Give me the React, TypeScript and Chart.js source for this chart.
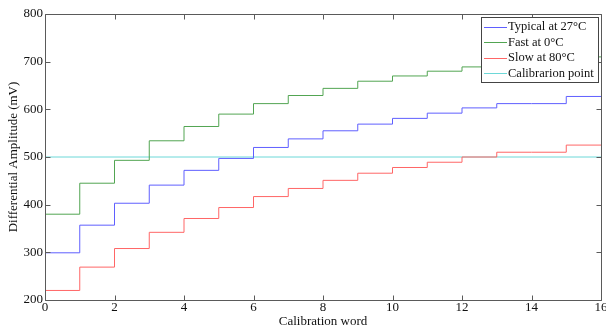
import React, { useEffect, useRef } from "react";
import { Chart, registerables } from "chart.js";

Chart.register(...registerables);

const calibrationWords = [0, 1, 2, 3, 4, 5, 6, 7, 8, 9, 10, 11, 12, 13, 14, 15, 16];
const typical27C = [299, 357, 403, 441, 472, 497, 520, 538, 555, 569, 581, 592, 603, 612, 612, 627, 627];
const fast0C = [380, 445, 493, 534, 564, 590, 612, 629, 644, 659, 670, 680, 689, 699, 699, 710, 710];
const slow80C = [220, 269, 308, 342, 371, 394, 417, 434, 451, 466, 478, 489, 500, 510, 510, 525, 525];
const calibrationX = [0, 16];
const calibrationY = [500, 500];
const xTicks = [0, 2, 4, 6, 8, 10, 12, 14, 16];
const yTicks = [200, 300, 400, 500, 600, 700, 800];

const seriesNames = ["Typical at 27°C", "Fast at 0°C", "Slow at 80°C", "Calibrarion point"];
const seriesColors = ["#5f5fff", "#52a552", "#ff6666", "#6dd8d8"];

const FONT = "'Liberation Serif', 'Times New Roman', serif";

const boxPlugin = {
  id: "matlabBox",
  afterDatasetsDraw(chart: any) {
    const { ctx, chartArea } = chart;
    const xs = chart.scales.x;
    const ys = chart.scales.y;
    const l = Math.round(chartArea.left) + 0.5;
    const r = Math.round(chartArea.right) + 0.5;
    const t = Math.round(chartArea.top) + 0.5;
    const b = Math.round(chartArea.bottom) + 0.5;
    ctx.save();
    ctx.strokeStyle = "#5a5a5a";
    ctx.lineWidth = 1;
    ctx.beginPath();
    ctx.rect(l, t, r - l, b - t);
    const tl = 5;
    xTicks.forEach((v) => {
      const px = Math.round(xs.getPixelForValue(v)) + 0.5;
      ctx.moveTo(px, b);
      ctx.lineTo(px, b - tl);
      ctx.moveTo(px, t);
      ctx.lineTo(px, t + tl);
    });
    yTicks.forEach((v) => {
      const py = Math.round(ys.getPixelForValue(v)) + 0.5;
      ctx.moveTo(l, py);
      ctx.lineTo(l + tl, py);
      ctx.moveTo(r, py);
      ctx.lineTo(r - tl, py);
    });
    ctx.stroke();
    ctx.restore();
  },
};

const legendPlugin = {
  id: "matlabLegend",
  afterDraw(chart: any) {
    const { ctx } = chart;
    const x0 = 481.5, y0 = 17.5, w = 117, h = 65;
    ctx.save();
    ctx.fillStyle = "#ffffff";
    ctx.fillRect(x0, y0, w, h);
    ctx.strokeStyle = "#444";
    ctx.lineWidth = 1;
    ctx.strokeRect(x0, y0, w, h);
    ctx.font = `12.5px ${FONT}`;
    ctx.textBaseline = "middle";
    ctx.textAlign = "left";
    chart.data.datasets.forEach((ds: any, i: number) => {
      const y = 26.5 + i * 15.5;
      ctx.strokeStyle = ds.borderColor;
      ctx.beginPath();
      ctx.moveTo(484, Math.round(y) + 0.5);
      ctx.lineTo(507, Math.round(y) + 0.5);
      ctx.stroke();
      ctx.fillStyle = "#111";
      ctx.fillText(ds.label, 508, y + 0.5);
    });
    ctx.restore();
  },
};

export default function App() {
  const ref = useRef<HTMLCanvasElement>(null);
  useEffect(() => {
    if (!ref.current) return;
    const mk = (ys: number[]) => calibrationWords.map((x, i) => ({ x, y: ys[i] }));
    const chart = new Chart(ref.current, {
      type: "line",
      data: {
        datasets: [
          { label: seriesNames[0], data: mk(typical27C), borderColor: seriesColors[0], stepped: "before" },
          { label: seriesNames[1], data: mk(fast0C), borderColor: seriesColors[1], stepped: "before" },
          { label: seriesNames[2], data: mk(slow80C), borderColor: seriesColors[2], stepped: "before" },
          {
            label: seriesNames[3],
            data: calibrationX.map((x, i) => ({ x, y: calibrationY[i] })),
            borderColor: seriesColors[3],
          },
        ].map((d) => ({ ...d, borderWidth: 1, pointRadius: 0, fill: false, tension: 0 })) as any,
      },
      options: {
        animation: false,
        responsive: false,
        devicePixelRatio: 1,
        layout: { padding: { top: 14, right: 5, left: 0, bottom: 0 } },
        plugins: { legend: { display: false }, tooltip: { enabled: false } },
        scales: {
          x: {
            type: "linear",
            min: 0,
            max: 16,
            afterFit(s: any) {
              s.height = 29;
              s.paddingLeft = 0;
              s.paddingRight = 0;
            },
            afterBuildTicks(s: any) {
              s.ticks = xTicks.map((v) => ({ value: v }));
            },
            grid: { display: false, drawTicks: false },
            border: { display: false },
            ticks: {
              autoSkip: false,
              maxRotation: 0,
              padding: 0,
              color: "#111",
              font: { family: FONT, size: 13 },
            },
            title: {
              display: true,
              text: "Calibration word",
              color: "#111",
              font: { family: FONT, size: 13 },
              padding: { top: 0, bottom: 0 },
            },
          },
          y: {
            type: "linear",
            min: 200,
            max: 800,
            afterFit(s: any) {
              s.width = 45;
              s.paddingTop = 0;
              s.paddingBottom = 0;
            },
            afterBuildTicks(s: any) {
              s.ticks = yTicks.map((v) => ({ value: v }));
            },
            grid: { display: false, drawTicks: false },
            border: { display: false },
            ticks: {
              padding: 2,
              color: "#111",
              font: { family: FONT, size: 13 },
            },
            title: {
              display: true,
              text: "Differential Amplitude (mV)",
              color: "#111",
              font: { family: FONT, size: 13 },
              padding: { top: 6, bottom: 0 },
            },
          },
        },
      },
      plugins: [boxPlugin, legendPlugin],
    });
    return () => chart.destroy();
  }, []);
  return (
    <div style={{ position: "fixed", left: 0, top: 0, width: 606, height: 329, background: "#fff" }}>
      <canvas ref={ref} width={606} height={329} style={{ display: "block" }} />
    </div>
  );
}
